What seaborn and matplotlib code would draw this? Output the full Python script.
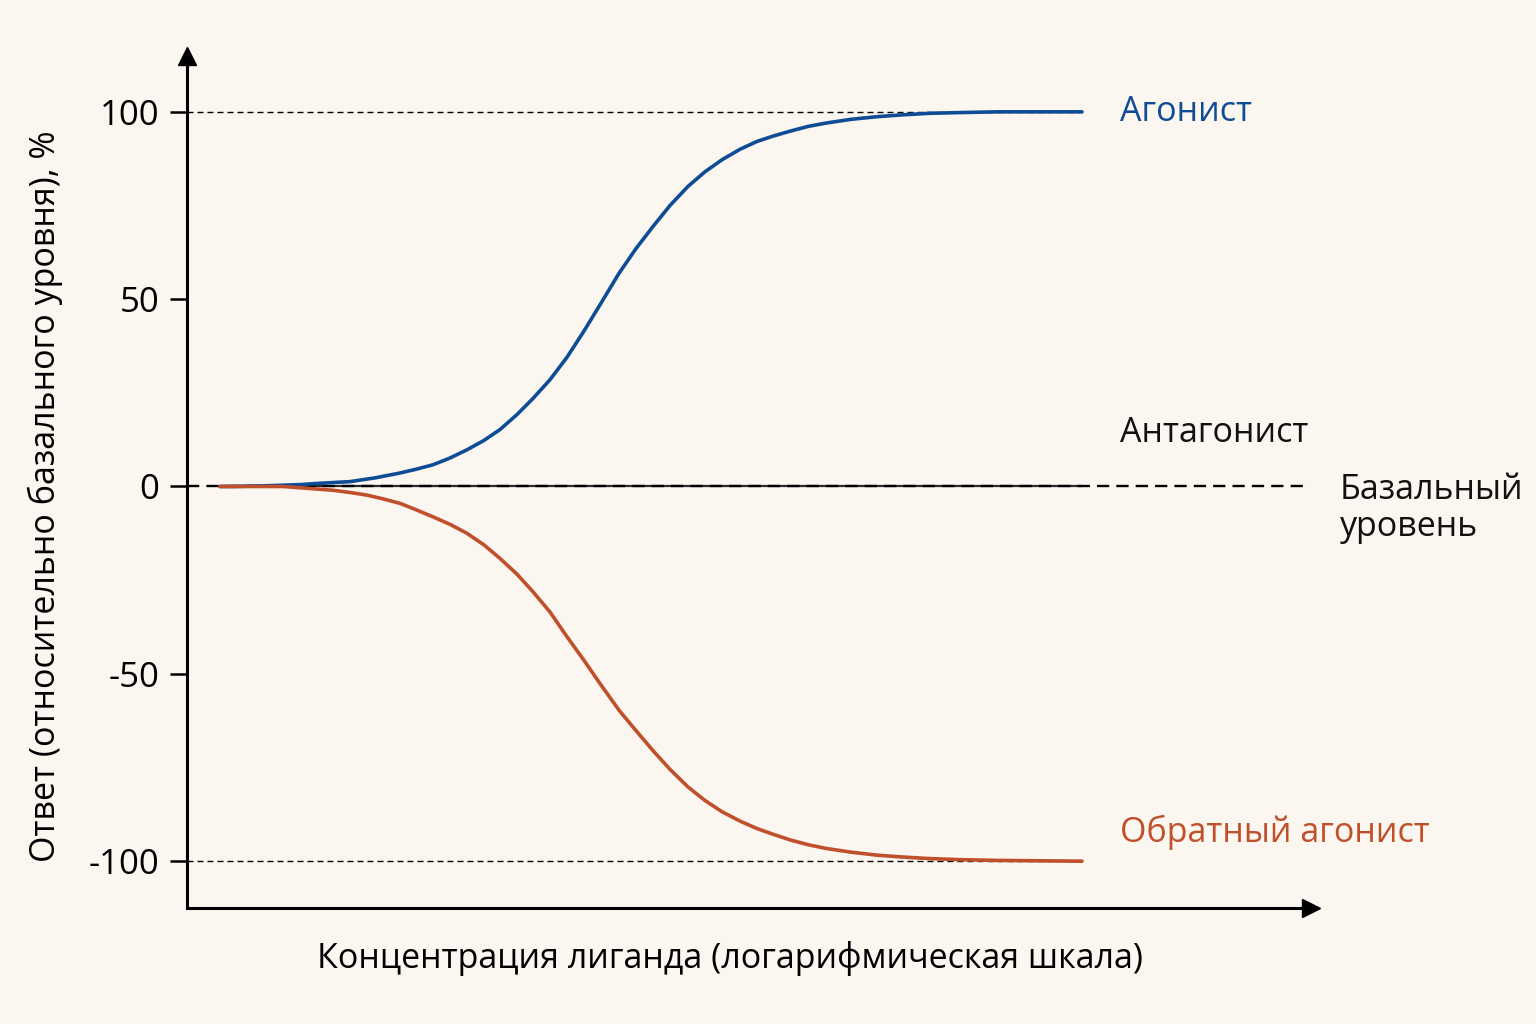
import numpy as np
import pandas as pd
import matplotlib
matplotlib.use("Agg")
import matplotlib.pyplot as plt
import seaborn as sns

# log-concentration (arbitrary units) and responses (%)
agonist_x = [0.33, 0.46, 0.79, 1.13, 1.29, 1.63, 1.88, 2.13, 2.29, 2.46, 2.63, 2.80,
             2.97, 3.13, 3.30, 3.46, 3.63, 3.80, 3.97, 4.13, 4.32, 4.49, 4.66, 4.83,
             5.01, 5.18, 5.35, 5.53, 5.70, 5.87, 6.04, 6.21, 6.39, 6.64, 6.90, 7.16,
             7.42, 7.73, 8.11, 8.95]
agonist_y = [0.0, 0.0, 0.2, 0.5, 0.8, 1.3, 2.3, 3.6, 4.6, 5.8, 7.6, 9.8,
             12.3, 15.2, 19.2, 23.5, 28.5, 34.5, 41.5, 48.5, 56.9, 63.5, 69.4, 75.0,
             80.1, 84.0, 87.2, 90.0, 92.1, 93.6, 94.9, 96.1, 97.0, 98.0, 98.7, 99.2,
             99.6, 99.8, 100.0, 100.0]

inverse_x = [0.33, 0.96, 1.46, 1.63, 1.80, 1.96, 2.13, 2.29, 2.46, 2.63, 2.80, 2.97,
             3.13, 3.30, 3.46, 3.63, 3.80, 3.97, 4.13, 4.32, 4.46, 4.66, 4.83, 5.01,
             5.18, 5.35, 5.53, 5.70, 5.87, 6.04, 6.21, 6.39, 6.64, 6.90, 7.16, 7.42,
             7.73, 8.11, 8.95]
inverse_y = [0.0, 0.0, -1.0, -1.6, -2.3, -3.3, -4.5, -6.2, -8.1, -10.1, -12.5, -15.6,
             -19.2, -23.4, -28.1, -33.5, -40.1, -46.4, -52.6, -59.7, -64.2, -70.5, -75.5, -80.2,
             -83.8, -86.8, -89.3, -91.3, -92.9, -94.4, -95.6, -96.6, -97.6, -98.4, -98.9, -99.3,
             -99.6, -99.8, -100.0]

antagonist_x = [0.33, 8.95]
antagonist_y = [0.0, 0.0]

y_ticks = [-100, -50, 0, 50, 100]

BG = "#FBF7F0"
BLUE = "#0F4C96"
ORANGE = "#C0502B"

sns.set_theme(style="white")
plt.rcParams["font.family"] = ["Open Sans", "DejaVu Sans"]

fig = plt.figure(figsize=(15.36, 10.24), dpi=100, facecolor=BG)
ax = fig.add_axes([187 / 1536, 1 - 908 / 1024, (1311 - 187) / 1536, (908 - 56) / 1024])
ax.set_facecolor(BG)

# reference levels (max / min response)
ax.plot([0, 8.95], [100, 100], color="black", lw=1.0, dashes=(4.3, 2.9), zorder=1)
ax.plot([0, 8.95], [-100, -100], color="black", lw=1.0, dashes=(4.3, 2.9), zorder=1)

# antagonist (flat) + basal level dashed on top
df_ant = pd.DataFrame({"x": antagonist_x, "y": antagonist_y})
sns.lineplot(data=df_ant, x="x", y="y", ax=ax, color="#2a2a2a", lw=1.6, zorder=2)
ax.plot([0, 11.23], [0, 0], color="black", lw=1.7, dashes=(5.2, 3.0), zorder=3)

df_ag = pd.DataFrame({"x": agonist_x, "y": agonist_y})
df_inv = pd.DataFrame({"x": inverse_x, "y": inverse_y})
sns.lineplot(data=df_ag, x="x", y="y", ax=ax, color=BLUE, lw=2.6, sort=False, zorder=4,
             solid_joinstyle="round", solid_capstyle="round")
sns.lineplot(data=df_inv, x="x", y="y", ax=ax, color=ORANGE, lw=2.6, sort=False, zorder=4,
             solid_joinstyle="round", solid_capstyle="round")

ax.set_xlim(0, 11.24)
ax.set_ylim(-112.5, 114.9)

for side in ["top", "right"]:
    ax.spines[side].set_visible(False)
for side in ["left", "bottom"]:
    ax.spines[side].set_linewidth(2.2)
    ax.spines[side].set_color("black")

# axis arrows
ax.plot(1, 0, ">", color="black", ms=13, transform=ax.transAxes, clip_on=False)
ax.plot(0, 1, "^", color="black", ms=13, transform=ax.transAxes, clip_on=False)

ax.set_xticks([])
ax.set_yticks(y_ticks)
ax.set_yticklabels([str(t) for t in y_ticks], fontsize=25)
ax.tick_params(axis="y", direction="out", length=12, width=1.8, color="black",
               left=True, pad=8, labelcolor="black")

ax.set_xlabel("Концентрация лиганда (логарифмическая шкала)", fontsize=24.5, labelpad=24,
              color="black")
ax.set_ylabel("Ответ (относительно базального уровня), %", fontsize=24.5, color="black")
ax.xaxis.label.set_x((730 - 187) / 1124)
ax.yaxis.set_label_coords((63 - 187) / 1124, (908 - 496) / 852)

ax.text(9.33, 100, "Агонист", color=BLUE, fontsize=24.5, va="center", ha="left")
ax.text(9.33, 14.3, "Антагонист", color="#111111", fontsize=24.5, va="center", ha="left")
ax.text(11.53, 3.5, "Базальный\nуровень", color="#111111", fontsize=24.5,
        va="top", ha="left", linespacing=1.1)
ax.text(9.33, -92.2, "Обратный агонист", color=ORANGE, fontsize=24.5, va="center", ha="left")

fig.savefig("out.png", dpi=100, facecolor=BG)
